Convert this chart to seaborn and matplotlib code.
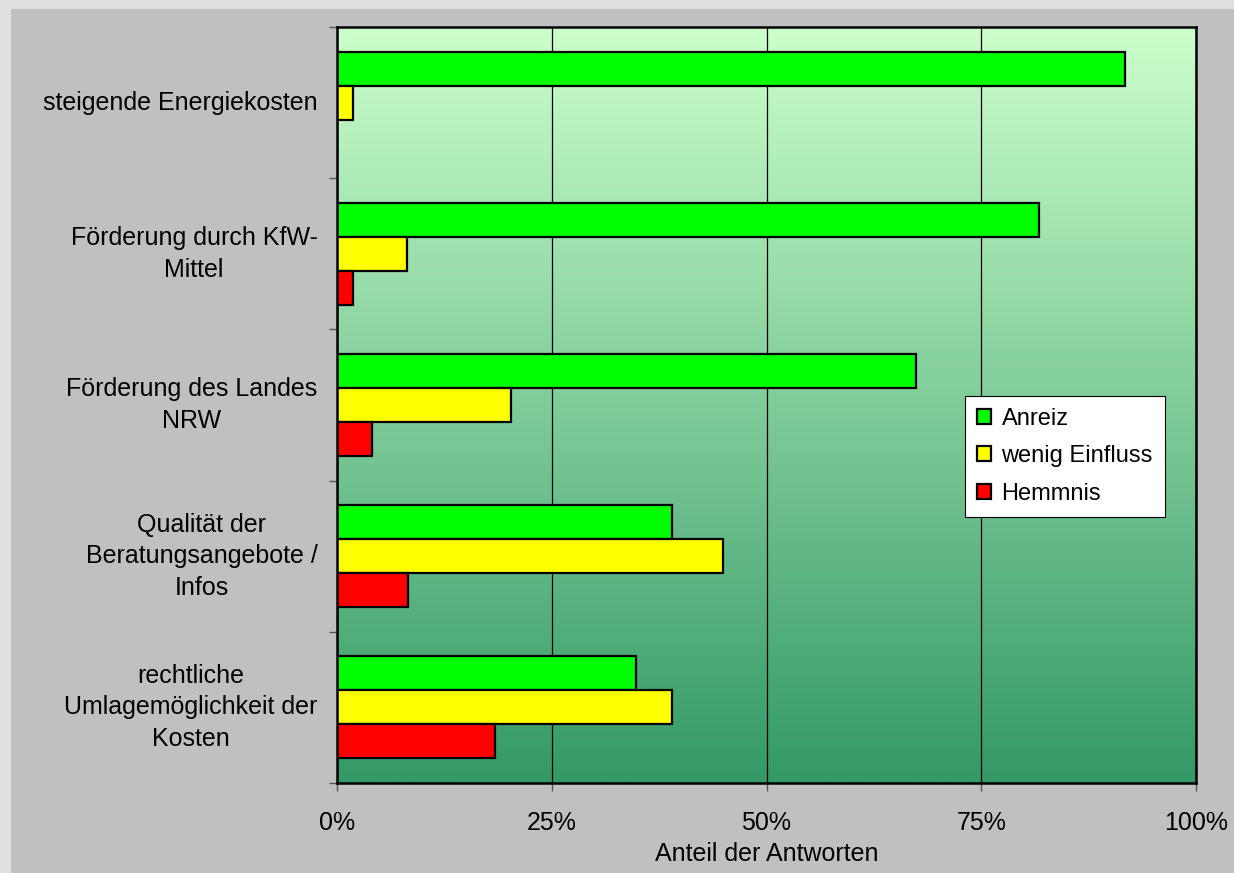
import matplotlib
matplotlib.use("Agg")
import matplotlib.pyplot as plt
from matplotlib.patches import Rectangle, Patch
from matplotlib.ticker import FixedLocator
import matplotlib.colors as mcolors
import numpy as np
import pandas as pd
import seaborn as sns

categories = [
    "steigende Energiekosten",
    "Förderung durch KfW-\nMittel",
    "Förderung des Landes\nNRW",
    "Qualität der\nBeratungsangebote /\nInfos",
    "rechtliche\nUmlagemöglichkeit der\nKosten",
]
anreiz = [91.7, 81.7, 67.4, 39.0, 34.8]
wenig_einfluss = [1.9, 8.2, 20.2, 44.9, 39.0]
hemmnis = [0.0, 1.9, 4.1, 8.3, 18.4]
series_names = ["Anreiz", "wenig Einfluss", "Hemmnis"]
series_colors = ["#00ff00", "#ffff00", "#ff0000"]
x_ticks = [0, 25, 50, 75, 100]
x_ticklabels = ["0%", "25%", "50%", "75%", "100%"]

sns.set_style("white")
plt.rcParams["font.family"] = ["Liberation Sans", "DejaVu Sans"]
plt.rcParams["text.color"] = "black"
plt.rcParams["axes.labelcolor"] = "black"
plt.rcParams["xtick.color"] = "black"
plt.rcParams["ytick.color"] = "black"

FS = 18

df = pd.DataFrame({
    "Kategorie": categories * 3,
    "Serie": np.repeat(series_names, len(categories)),
    "Wert": anreiz + wenig_einfluss + hemmnis,
})

fig = plt.figure(figsize=(12.34, 8.73), dpi=100)
fig.patch.set_facecolor("#e0e0e0")
fig.patches.append(Rectangle((11 / 1234, 0), 1, 1 - 9 / 873, transform=fig.transFigure,
                             facecolor="#c0c0c0", edgecolor="none", zorder=-10))

ax = fig.add_axes([337 / 1234, 1 - 783 / 873, 859 / 1234, 756 / 873])

# gradient background of the plot area
cmap = mcolors.LinearSegmentedColormap.from_list("bg", ["#339966", "#ccffcc"])
grad = np.linspace(0, 1, 256).reshape(-1, 1)
ax.imshow(grad, extent=[0, 1, 0, 1], transform=ax.transAxes, origin="lower",
          aspect="auto", cmap=cmap, zorder=0)

sns.barplot(data=df, x="Wert", y="Kategorie", hue="Serie", hue_order=series_names,
            palette=series_colors, orient="h", width=0.675, saturation=1,
            edgecolor="black", linewidth=1.6, legend=False, ax=ax, zorder=2)

ax.set_xlim(0, 100)
ax.set_ylim(len(categories) - 0.5, -0.5)

ax.set_xticks(x_ticks)
ax.set_xticklabels(x_ticklabels, fontsize=FS)
ax.tick_params(axis="x", bottom=True, direction="out", length=6, width=1,
               color="#555555", labelcolor="black", pad=14)
ax.grid(axis="x", color="black", linewidth=0.9, zorder=1)
ax.set_axisbelow(True)

ax.set_yticks(range(len(categories)))
ax.set_yticklabels(categories, fontsize=FS, multialignment="center", linespacing=1.4,
                   color="black")
for t in ax.get_yticklabels():
    t.set_verticalalignment("center")
ax.tick_params(axis="y", which="major", left=True, length=0, pad=14)
ax.yaxis.set_minor_locator(FixedLocator(np.arange(-0.5, len(categories), 1)))
ax.tick_params(axis="y", which="minor", left=True, direction="out", length=6, width=1,
               color="#555555")

ax.set_xlabel("Anteil der Antworten", fontsize=FS, labelpad=5, color="black")
ax.set_ylabel("")

for s in ax.spines.values():
    s.set_visible(True)
    s.set_color("black")
    s.set_linewidth(1.8)

handles = [Patch(facecolor=c, edgecolor="black", linewidth=1.6) for c in series_colors]
leg = ax.legend(handles, series_names, loc="upper left", bbox_to_anchor=(0.731, 0.512),
                fontsize=17, frameon=True, fancybox=False, framealpha=1,
                handlelength=0.6, handleheight=0.6, handletextpad=0.45,
                labelspacing=0.66, borderpad=0.5, borderaxespad=0)
leg.get_frame().set_edgecolor("black")
leg.get_frame().set_linewidth(0.8)
leg.set_zorder(5)

fig.savefig("out.png", dpi=100, facecolor=fig.get_facecolor())
